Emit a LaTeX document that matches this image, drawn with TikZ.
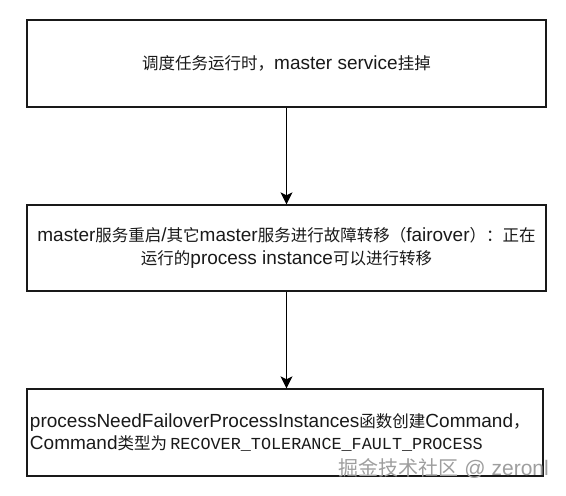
\documentclass[tikz,border=0pt]{standalone}
\usepackage{fontspec}
\setmainfont{Liberation Sans}
\newfontfamily\cjk{Noto Sans CJK SC}
\newfontfamily\monofam{Liberation Mono}
\newcommand\zh[1]{{\cjk\fontsize{16.5}{22.4}\selectfont #1}}
\newcommand\wzh[1]{{\cjk\fontsize{20}{22}\selectfont #1}}
\usetikzlibrary{arrows.meta}
\begin{document}
\begin{tikzpicture}[x=1pt,y=-1pt,
  box/.style={draw=black!90, line width=1.3pt, inner sep=0pt, font=\fontsize{19}{22.4}\selectfont, text=black!90},
  flow/.style={draw=black, line width=1.2pt, -{Stealth[length=12pt,width=12pt,inset=3pt]}},
  wm/.style={text=black!38, font=\fontsize{21}{22}\selectfont, inner sep=0pt}]
\useasboundingbox (0,0) rectangle (566,496);
\node[box, minimum width=519pt, minimum height=87pt] (b1) at (286.5,63.5)
  {\zh{调度任务运行时，}master service\zh{挂掉}};
\node[box, minimum width=519pt, minimum height=86pt, align=center] (b2) at (286.5,248)
  {master\zh{服务重启}/\zh{其它}master\zh{服务进行故障转移（}fairover\zh{）：正在}\\
   \zh{运行的}process instance\zh{可以进行转移}};
\node[box, minimum width=516pt, minimum height=87pt, text width=510pt, inner xsep=3pt, align=left] (b3) at (285,432.5)
  {processNeedFailoverProcessInstances\zh{函数创建}Command\zh{，}\\
   Command\zh{类型为}\,{\monofam\fontsize{16.8}{22.4}\selectfont RECOVER\_TOLERANCE\_FAULT\_PROCESS}};
\node[wm, anchor=base east] (wm) at (549,475) {\wzh{掘金技术社区} @ zeronl};
\draw[flow] (b1.south) -- (b2.north);
\draw[flow] (b2.south) -- (b2.south |- b3.north);
\end{tikzpicture}
\end{document}
